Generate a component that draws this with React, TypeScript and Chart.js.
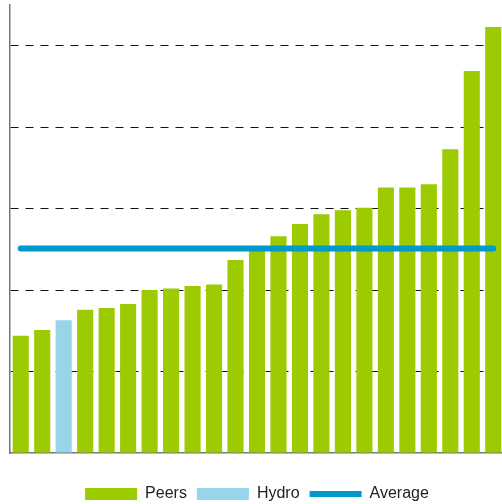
import React, { useEffect, useRef } from "react";
import { Chart, registerables } from "chart.js";

Chart.register(...registerables);

const categories = [
  "P1", "P2", "Hydro", "P4", "P5", "P6", "P7", "P8", "P9", "P10", "P11", "P12",
  "P13", "P14", "P15", "P16", "P17", "P18", "P19", "P20", "P21", "P22", "P23",
];
const peersValues = [
  1.44, 1.51, null, 1.76, 1.78, 1.83, 2.0, 2.02, 2.05, 2.07, 2.37, 2.49,
  2.66, 2.81, 2.93, 2.98, 3.01, 3.26, 3.26, 3.3, 3.73, 4.69, 5.23,
];
const hydroValues = [
  null, null, 1.63, null, null, null, null, null, null, null, null, null,
  null, null, null, null, null, null, null, null, null, null, null,
];
const averageValue = 2.51;
const averageValues = categories.map(() => averageValue);
const yMin = 0;
const yMax = 5.5;
const yStep = 1;

export default function App() {
  const ref = useRef<HTMLCanvasElement | null>(null);
  useEffect(() => {
    document.body.style.margin = "0";
    document.body.style.overflow = "hidden";
    const chart = new Chart(ref.current as HTMLCanvasElement, {
      type: "bar",
      data: {
        labels: categories,
        datasets: [
          {
            type: "bar",
            label: "Peers",
            data: peersValues,
            backgroundColor: "#9BCB00",
            borderWidth: 0,
            grouped: false,
            barPercentage: 0.75,
            categoryPercentage: 1,
            order: 2,
            pointStyle: "rect",
          } as any,
          {
            type: "bar",
            label: "Hydro",
            data: hydroValues,
            backgroundColor: "#99D5EA",
            borderWidth: 0,
            grouped: false,
            barPercentage: 0.75,
            categoryPercentage: 1,
            order: 2,
            pointStyle: "rect",
          } as any,
          {
            type: "line",
            label: "Average",
            data: averageValues,
            borderColor: "#0099CC",
            backgroundColor: "#0099CC",
            borderWidth: 6,
            borderCapStyle: "round",
            pointRadius: 0,
            pointStyle: "line",
            order: 1,
          } as any,
        ],
      },
      options: {
        animation: false,
        responsive: false,
        maintainAspectRatio: false,
        layout: { padding: { top: 5, left: 10, right: 0, bottom: -8 } },
        plugins: {
          tooltip: { enabled: false },
          legend: {
            position: "bottom",
            title: {
              display: true,
              text: " ",
              font: { size: 10 },
              padding: 5.5,
            },
            labels: {
              usePointStyle: true,
              pointStyleWidth: 52,
              boxHeight: 12,
              padding: 10,
              color: "#222",
              font: { family: "'Liberation Sans', Arial, sans-serif", size: 16 },
              sort: (a: any, b: any) => a.datasetIndex - b.datasetIndex,
            },
          },
        },
        scales: {
          x: {
            offset: true,
            ticks: { display: false },
            grid: { display: false, drawTicks: false },
            border: { display: true, color: "#777", width: 1.5 },
          },
          y: {
            min: yMin,
            max: yMax,
            ticks: { display: false, stepSize: yStep },
            grid: {
              drawTicks: false,
              color: (ctx: any) =>
                ctx.tick && (ctx.tick.value === yMin || ctx.tick.value === yMax)
                  ? "rgba(0,0,0,0)"
                  : "#111",
              lineWidth: 1,
            },
            border: { display: true, color: "#777", width: 1.5, dash: [8, 7] } as any,
          },
        },
      } as any,
    });
    return () => chart.destroy();
  }, []);
  return (
    <div style={{ position: "fixed", left: 0, top: 0, width: 504, height: 504 }}>
      <canvas ref={ref} width={504} height={504} />
    </div>
  );
}
